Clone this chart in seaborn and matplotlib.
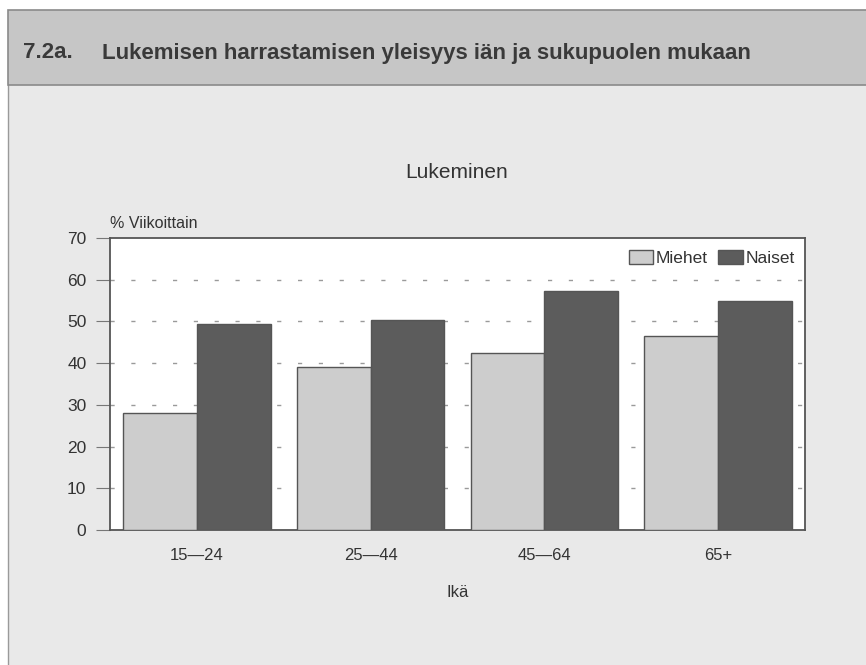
import matplotlib
matplotlib.use("Agg")
import matplotlib.pyplot as plt
from matplotlib.patches import Rectangle
import pandas as pd
import seaborn as sns

# Data: weekly reading (%) by age group and sex
age_groups = ["15—24", "25—44", "45—64", "65+"]
miehet = [28.0, 39.0, 42.4, 46.5]
naiset = [49.3, 50.4, 57.4, 54.8]
sexes = ["Miehet", "Naiset"]
yticks = [0, 10, 20, 30, 40, 50, 60, 70]

df = pd.DataFrame({
    "Ikä": age_groups * 2,
    "Sukupuoli": [sexes[0]] * len(age_groups) + [sexes[1]] * len(age_groups),
    "Osuus": miehet + naiset,
})

sns.set_theme(style="white")
plt.rcParams["font.family"] = ["Liberation Sans", "DejaVu Sans"]

TXT = "#333333"
EDGE = "#555555"
palette = {"Miehet": "#cdcdcd", "Naiset": "#5c5c5c"}

fig = plt.figure(figsize=(8.66, 6.65), dpi=100)
fig.patch.set_facecolor("white")

# Background panels: header band and lighter body panel
W, H = 866.0, 665.0
fig.patches.append(Rectangle((8 / W, 0), 1 - 8 / W, 1 - 85 / H, transform=fig.transFigure,
                             facecolor="#e9e9e9", edgecolor="none", zorder=-3))
fig.patches.append(Rectangle((8 / W, 1 - 85 / H), 1 - 8 / W + 0.01, 75 / H, transform=fig.transFigure,
                             facecolor="#c6c6c6", edgecolor="#8a8a8a", linewidth=1.2, zorder=-2))
fig.lines.append(plt.Line2D([8 / W, 8 / W], [0, 1 - 85 / H], transform=fig.transFigure,
                            color="#9a9a9a", linewidth=1.0, zorder=-2))

title_font = ["Liberation Sans Narrow", "Liberation Sans"]
fig.text(23 / W, 1 - 53 / H, "7.2a.", fontsize=16, fontweight="bold", color="#3a3a3a",
         family=title_font, va="center", ha="left")
fig.text(102 / W, 1 - 53 / H, "Lukemisen harrastamisen yleisyys iän ja sukupuolen mukaan",
         fontsize=16, fontweight="bold", color="#3a3a3a",
         family=title_font, va="center", ha="left")

ax = fig.add_axes([110 / W, 1 - 530 / H, 695 / W, 292 / H])
ax.set_zorder(2)
ax.set_facecolor("white")

sns.barplot(data=df, x="Ikä", y="Osuus", hue="Sukupuoli", hue_order=sexes,
            order=age_groups, palette=palette, width=0.85, gap=0,
            edgecolor=EDGE, linewidth=1.0, saturation=1, ax=ax, zorder=3)

ax.set_ylim(0, 70)
ax.set_yticks(yticks)
ax.set_yticklabels([str(v) for v in yticks], fontsize=12.5, color=TXT)
ax.tick_params(axis="y", direction="out", length=10, width=0.8, color="#777777", pad=7,
               left=True)
ax.tick_params(axis="x", length=0, pad=13, labelsize=12, labelcolor=TXT)
ax.set_xlabel("Ikä", fontsize=12, color=TXT, labelpad=16)
ax.set_ylabel("")

# Dashed horizontal guide lines
for v in yticks[1:-1]:
    ax.axhline(v, color="#9a9a9a", linewidth=1.0, linestyle=(0, (3, 12)), zorder=1)

for s in ax.spines.values():
    s.set_visible(True)
    s.set_color(EDGE)
    s.set_linewidth(1.3)

fig.text(110 / W, 1 - 223 / H, "% Viikoittain", fontsize=11.5, color=TXT, ha="left", va="center")
fig.text(457 / W, 1 - 173 / H, "Lukeminen", fontsize=15, color=TXT, ha="center", va="center")

handles, labels = ax.get_legend_handles_labels()
ax.legend(handles, labels, loc="center right", bbox_to_anchor=(1.0, 0.932), ncol=2,
          frameon=False, fontsize=12.5, handlelength=1.4, handleheight=0.9,
          handletextpad=0.15, columnspacing=0.6, borderaxespad=0.2,
          labelcolor=TXT)

fig.savefig("out.png", dpi=100)
